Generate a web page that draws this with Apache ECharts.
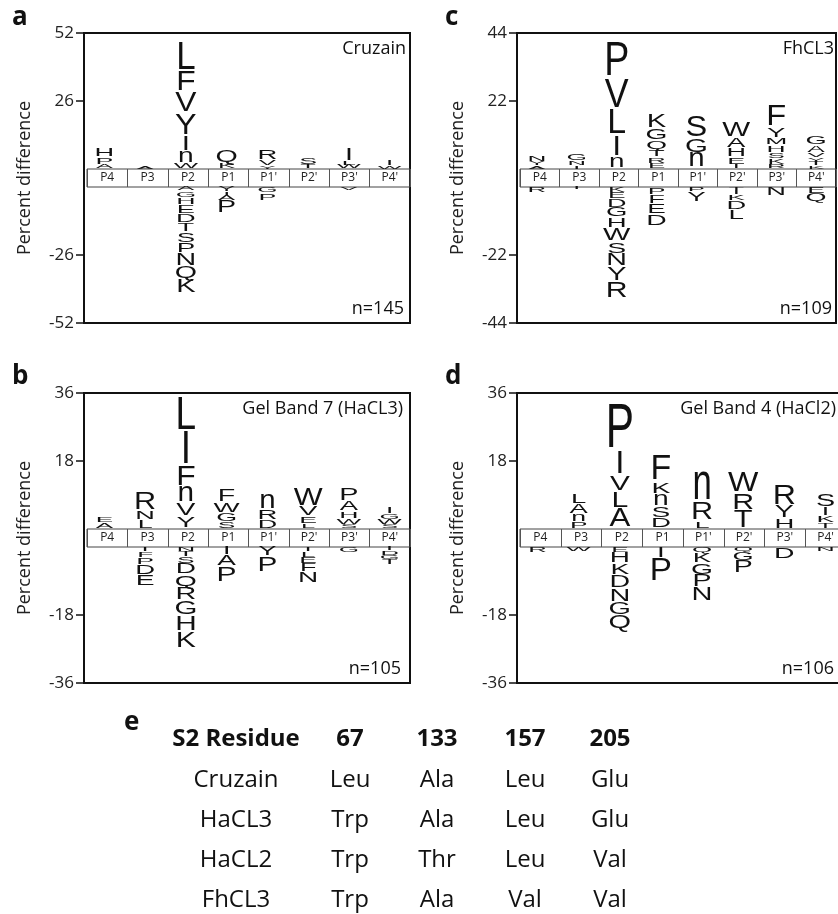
<!DOCTYPE html>
<html>
<head>
<meta charset="utf-8">
<style>
  html, body { margin: 0; padding: 0; background: #fff; }
  #chart { width: 838px; height: 914px; }
</style>
</head>
<body>
<div id="chart"></div>
<script src="https://cdn.jsdelivr.net/npm/echarts@6/dist/echarts.min.js"></script>
<script>
const positions = ['P4', 'P3', 'P2', 'P1', "P1'", "P2'", "P3'", "P4'"];

// each position lists its residues from the band outward: [residue, percent difference]
const cruzainUp = [
  [['A', 1.5], ['P', 3], ['H', 3.5]],
  [['A', 1.2]],
  [['W', 2], ['n', 4.5], ['I', 6], ['Y', 8.5], ['V', 8], ['F', 8], ['L', 11]],
  [['K', 2], ['Q', 5]],
  [['Y', 1.3], ['V', 2], ['R', 3.8]],
  [['T', 1.5], ['S', 3]],
  [['W', 1.4], ['L', 1.5], ['I', 5]],
  [['W', 1.3], ['I', 2]]
];
const cruzainDown = [
  [],
  [],
  [['A', 1.5], ['G', 2.5], ['H', 3], ['E', 3.5], ['D', 3.5], ['T', 3.5], ['S', 4], ['P', 4], ['N', 5], ['Q', 5], ['K', 5.5]],
  [['Y', 2], ['I', 1.2], ['A', 2], ['P', 5]],
  [['G', 2.3], ['P', 3]],
  [],
  [['V', 1.2]],
  []
];

const fhcl3Up = [
  [['A', 1], ['Y', 1.2], ['N', 2]],
  [['I', 1], ['N', 1.5], ['G', 2.2]],
  [['n', 3.5], ['I', 7], ['L', 8.5], ['V', 10], ['P', 11.5]],
  [['E', 1.8], ['R', 2], ['T', 2.4], ['Q', 2.8], ['G', 3.8], ['K', 4.8]],
  [['n', 4.9], ['G', 4.9], ['S', 7.4]],
  [['I', 1.2], ['E', 2.6], ['H', 2.8], ['A', 3.3], ['W', 5]],
  [['R', 1.5], ['K', 1.8], ['S', 2], ['H', 2.3], ['M', 2.3], ['Y', 3.3], ['F', 7.5]],
  [['K', 1], ['T', 1.2], ['Y', 1.5], ['V', 1.6], ['A', 2.2], ['G', 3]]
];
const fhcl3Down = [
  [['R', 1.8]],
  [['I', 0.8]],
  [['K', 1.8], ['E', 2.2], ['D', 2.8], ['G', 3.2], ['H', 3.3], ['W', 4.5], ['S', 4], ['N', 4.2], ['Y', 4.8], ['R', 5.5]],
  [['P', 2.5], ['F', 3], ['E', 3.5], ['D', 4]],
  [['P', 1.6], ['Y', 3.5]],
  [['T', 1], ['I', 1.5], ['K', 2], ['D', 3], ['L', 3.5]],
  [['N', 3]],
  [['E', 2.2], ['Q', 2.8]]
];

const hacl3Up = [
  [['A', 1.6], ['E', 1.6]],
  [['L', 2.2], ['N', 2.4], ['R', 4.8]],
  [['Y', 3.2], ['V', 3.5], ['n', 4.2], ['F', 5.6], ['I', 9], ['L', 9]],
  [['S', 1.8], ['G', 2.2], ['W', 2.8], ['F', 3.5]],
  [['D', 2.2], ['R', 2.7], ['n', 4]],
  [['L', 1.2], ['E', 2], ['V', 2.6], ['W', 4.8]],
  [['S', 1], ['W', 1.6], ['H', 2], ['A', 2.6], ['P', 3.6]],
  [['S', 1], ['W', 1.5], ['G', 1.6], ['I', 1.8]]
];
const hacl3Down = [
  [],
  [['I', 1.2], ['F', 1.6], ['P', 2], ['D', 2.6], ['E', 3.2]],
  [['N', 1.2], ['T', 1.4], ['S', 1.8], ['D', 3], ['Q', 3.3], ['R', 3.6], ['G', 4], ['H', 4.2], ['K', 4.5]],
  [['I', 2.2], ['A', 3], ['P', 4.4]],
  [['Y', 2.6], ['P', 4.2]],
  [['I', 1.2], ['L', 1.6], ['E', 1.8], ['F', 2.2], ['N', 3]],
  [['G', 1.6]],
  [['I', 1], ['D', 1.2], ['G', 1.2], ['T', 1.4]]
];

const hacl2Up = [
  [],
  [['P', 1.8], ['n', 2], ['A', 2.6], ['L', 2.6]],
  [['A', 5.2], ['L', 4.5], ['V', 4.2], ['I', 6.5], ['P', 12.5]],
  [['D', 2.8], ['S', 3.1], ['n', 3.2], ['K', 3.3], ['F', 7]],
  [['L', 2], ['R', 4.8], ['n', 7.5]],
  [['T', 4.8], ['R', 4.6], ['W', 5.8]],
  [['H', 2.6], ['Y', 3.4], ['R', 5.8]],
  [['T', 1.5], ['K', 2], ['I', 2.2], ['S', 3.5]]
];
const hacl2Down = [
  [['R', 1.4]],
  [['W', 1.2]],
  [['E', 1.5], ['H', 3], ['K', 3.2], ['D', 3.4], ['N', 3.6], ['G', 3.6], ['Q', 3.7]],
  [['I', 3], ['P', 6.5]],
  [['Q', 1.5], ['K', 2.8], ['G', 3.2], ['P', 3.4], ['N', 3.7]],
  [['Q', 1.3], ['G', 2.4], ['P', 3.4]],
  [['D', 3.3]],
  [['N', 1.2]]
];

const tableHeader = ['S2 Residue', '67', '133', '157', '205'];
const tableRows = [
  ['Cruzain', 'Leu', 'Ala', 'Leu', 'Glu'],
  ['HaCL3', 'Trp', 'Ala', 'Leu', 'Glu'],
  ['HaCL2', 'Trp', 'Thr', 'Leu', 'Val'],
  ['FhCL3', 'Trp', 'Ala', 'Val', 'Val']
];

const panels = [
  {tag: 'a', name: 'Cruzain', n: 'n=145', max: 52, up: cruzainUp, down: cruzainDown, left: 84, right: 410, top: 33, textRight: 406},
  {tag: 'c', name: 'FhCL3', n: 'n=109', max: 44, up: fhcl3Up, down: fhcl3Down, left: 517, right: 836, top: 33, textRight: 834},
  {tag: 'b', name: 'Gel Band 7 (HaCL3)', n: 'n=105', max: 36, up: hacl3Up, down: hacl3Down, left: 84, right: 410, top: 393, textRight: 403},
  {tag: 'd', name: 'Gel Band 4 (HaCl2)', n: 'n=106', max: 36, up: hacl2Up, down: hacl2Down, left: 517, right: 846, top: 393, textRight: 836}
];

const FONT = '"Open Sans", "DejaVu Sans", sans-serif';
const LOGO_FONT = '"Liberation Sans", Arial, sans-serif';
const UPPER_H = 136, BAND_H = 18, LOWER_H = 136;
const tableX = [236, 350, 437, 525, 610];

function stackItems(stacks, sign) {
  const items = [];
  stacks.forEach((stack, pos) => {
    let base = 0;
    stack.forEach(([res, v]) => {
      items.push({pos, res, from: base, to: base + sign * v});
      base += sign * v;
    });
  });
  return items;
}

function letterSeries(items, axisIndex) {
  return {
    type: 'custom',
    xAxisIndex: axisIndex,
    yAxisIndex: axisIndex,
    silent: true,
    clip: false,
    data: items.map(d => [d.pos, d.from, d.to]),
    encode: {x: 0, y: [1, 2]},
    renderItem: function (params, api) {
      const d = items[params.dataIndex];
      const p0 = api.coord([api.value(0), api.value(1)]);
      const p1 = api.coord([api.value(0), api.value(2)]);
      const full = Math.abs(p1[1] - p0[1]);
      const h = Math.max(full - Math.min(1.5, full * 0.12), 0.4);
      const g = d.res !== d.res.toUpperCase() ? 0.519 : 0.716;
      // bigger residues are drawn a little wider, as in the original logos
      const fs = Math.min(44, 24 + 0.4 * h);
      return {
        type: 'text',
        x: p0[0],
        y: (p0[1] + p1[1]) / 2,
        scaleY: h / (g * fs),
        style: {
          text: d.res, x: 0, y: (0.5 * g - 0.3465) * fs,
          fontSize: fs, fontFamily: LOGO_FONT, fill: '#111',
          align: 'center', verticalAlign: 'middle'
        }
      };
    }
  };
}

const grid = [], xAxis = [], yAxis = [], series = [], graphic = [];

panels.forEach(p => {
  const width = p.right - p.left;
  const bandTop = p.top + UPPER_H;
  const lowerTop = bandTop + BAND_H;
  const bottom = lowerTop + LOWER_H;
  const gi = grid.length;

  grid.push(
    {left: p.left, top: p.top, width, height: bottom - p.top, show: true, borderColor: '#111', borderWidth: 2, backgroundColor: 'transparent', outerBoundsMode: 'none'},
    {left: p.left, top: p.top, width, height: UPPER_H, outerBoundsMode: 'none'},
    {left: p.left + 3, top: bandTop, width: width - 3, height: BAND_H, show: true, borderColor: '#444', borderWidth: 1, backgroundColor: 'transparent', outerBoundsMode: 'none'},
    {left: p.left, top: lowerTop, width, height: LOWER_H, outerBoundsMode: 'none'}
  );

  xAxis.push(
    {gridIndex: gi, type: 'category', data: positions, show: false},
    {gridIndex: gi + 1, type: 'category', data: positions, show: false},
    {gridIndex: gi + 2, type: 'category', data: positions,
      axisLine: {show: false}, axisTick: {show: false},
      axisLabel: {inside: true, margin: 3, fontSize: 12, color: '#222', fontFamily: FONT},
      splitLine: {show: true, lineStyle: {color: '#555', width: 1}}},
    {gridIndex: gi + 3, type: 'category', data: positions, show: false}
  );

  const tick = {show: true, length: 8, lineStyle: {color: '#111', width: 1.5}};
  const label = {fontSize: 17, color: '#222', margin: 10, fontFamily: FONT};
  yAxis.push(
    {gridIndex: gi, type: 'value', min: 0, max: 1,
      axisLine: {show: false}, axisTick: {show: false}, axisLabel: {show: false}, splitLine: {show: false},
      name: 'Percent difference', nameLocation: 'middle', nameGap: 50,
      nameTextStyle: {fontSize: 18, color: '#222', fontFamily: FONT}},
    {gridIndex: gi + 1, type: 'value', min: 0, max: p.max, interval: p.max / 2,
      axisLine: {show: false}, splitLine: {show: false},
      axisTick: Object.assign({customValues: [p.max / 2, p.max]}, tick),
      axisLabel: Object.assign({customValues: [p.max / 2, p.max]}, label)},
    {gridIndex: gi + 2, type: 'value', show: false, splitLine: {show: false}},
    {gridIndex: gi + 3, type: 'value', min: -p.max, max: 0, interval: p.max / 2,
      axisLine: {show: false}, splitLine: {show: false},
      axisTick: Object.assign({customValues: [-p.max, -p.max / 2]}, tick),
      axisLabel: Object.assign({customValues: [-p.max, -p.max / 2]}, label)}
  );

  series.push(letterSeries(stackItems(p.up, 1), gi + 1));
  series.push(letterSeries(stackItems(p.down, -1), gi + 3));

  graphic.push(
    {type: 'text', x: p.left - 72, y: p.top - (p.top > 100 ? 16 : 15),
      style: {text: p.tag, fontSize: 26, fontWeight: 'bold', fontFamily: FONT, fill: '#111', align: 'left', verticalAlign: 'middle'}},
    {type: 'text', x: p.textRight, y: p.top + 16,
      style: {text: p.name, fontSize: 18, fontFamily: FONT, fill: '#111', align: 'right', verticalAlign: 'middle'}},
    {type: 'text', x: p.textRight - 2, y: bottom - 14,
      style: {text: p.n, fontSize: 18, fontFamily: FONT, fill: '#111', align: 'right', verticalAlign: 'middle'}}
  );
});

graphic.push({type: 'text', x: 124, y: 723,
  style: {text: 'e', fontSize: 26, fontWeight: 'bold', fontFamily: FONT, fill: '#111', align: 'left', verticalAlign: 'middle'}});
tableHeader.forEach((t, c) => {
  graphic.push({type: 'text', x: tableX[c], y: 739,
    style: {text: t, fontSize: 24, fontWeight: 'bold', fontFamily: FONT, fill: '#111', align: 'center', verticalAlign: 'middle'}});
});
tableRows.forEach((row, r) => {
  row.forEach((t, c) => {
    graphic.push({type: 'text', x: tableX[c], y: 780 + r * 40,
      style: {text: t, fontSize: 24, fontFamily: FONT, fill: '#111', align: 'center', verticalAlign: 'middle'}});
  });
});

const chart = echarts.init(document.getElementById('chart'));
chart.setOption({
  animation: false,
  backgroundColor: '#fff',
  grid, xAxis, yAxis, series, graphic
});
</script>
</body>
</html>
